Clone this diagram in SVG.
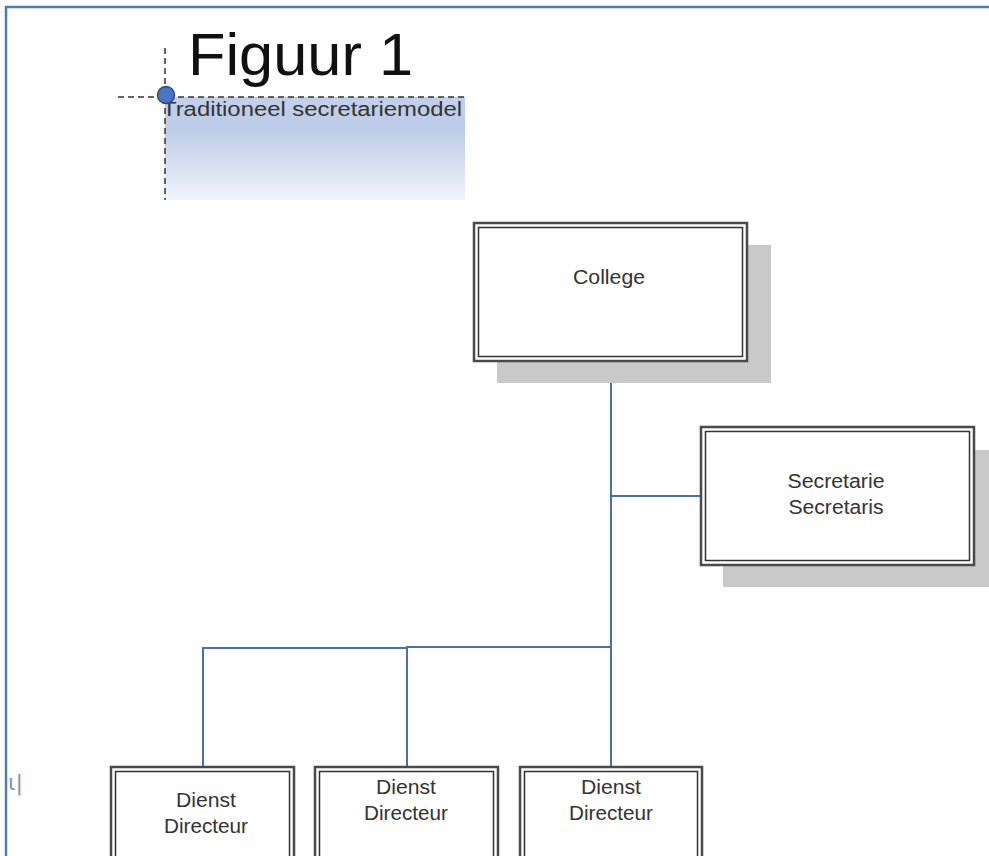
<svg xmlns="http://www.w3.org/2000/svg" width="989" height="856" viewBox="0 0 989 856">
<defs>
<linearGradient id="grad" x1="0" y1="0" x2="0" y2="1">
<stop offset="0" stop-color="#c3d0ea"/>
<stop offset="0.3" stop-color="#bccbe7"/>
<stop offset="1" stop-color="#f1f4fa"/>
</linearGradient>
</defs>
<style>
.shadow{fill:#c9c9c9}
.outer{fill:#ffffff;stroke:#4a4a4a;stroke-width:2.5}
.inner{fill:#ffffff;stroke:#333333;stroke-width:1.5}
.lbl{font-family:"Liberation Sans",Arial,sans-serif;font-size:20px;fill:#333333;text-anchor:middle}
.conn{stroke:#4a6fb5;stroke-width:2;fill:none}
.dash{stroke:#333333;stroke-width:1.5;stroke-dasharray:6 4;fill:none}
</style>
<rect width="989" height="856" fill="#ffffff"/>
<g id="frame">
<line x1="5" y1="7" x2="989" y2="7" stroke="#4f7bb5" stroke-width="2.5"/>
<line x1="6" y1="6" x2="6" y2="856" stroke="#4f7bb5" stroke-width="2.5"/>
</g>
<g id="title">
<rect x="165" y="97" width="300" height="103" fill="url(#grad)"/>
<text x="188" y="75" font-family="'Liberation Sans',Arial,sans-serif" font-size="60" fill="#111111" textLength="225" lengthAdjust="spacingAndGlyphs">Figuur 1</text>
<text x="162" y="116" font-family="'Liberation Sans',Arial,sans-serif" font-size="20" fill="#333333" textLength="300" lengthAdjust="spacingAndGlyphs">Traditioneel secretariemodel</text>
<line class="dash" x1="118" y1="97" x2="467" y2="97"/>
<line class="dash" x1="165" y1="48" x2="165" y2="200"/>
<circle cx="166" cy="95" r="8.5" fill="#4a76c4" stroke="#2a4a80" stroke-width="1.5"/>
</g>
<g id="connectors">
<polyline class="conn" points="611,361 611,647 407,647 407,767"/>
<polyline class="conn" points="407,648 203,648 203,767"/>
<line class="conn" x1="611" y1="647" x2="611" y2="767"/>
<line class="conn" x1="611" y1="496" x2="701" y2="496"/>
</g>
<g id="college">
<rect class="shadow" x="497" y="245" width="274" height="138"/>
<rect class="outer" x="474" y="223" width="273" height="138"/>
<rect class="inner" x="478.5" y="227.5" width="264" height="129"/>
<text class="lbl" x="609" y="284" textLength="72" lengthAdjust="spacingAndGlyphs">College</text>
</g>
<g id="secretarie">
<rect class="shadow" x="723" y="450" width="266" height="137"/>
<rect class="outer" x="701" y="427" width="273" height="138"/>
<rect class="inner" x="705.5" y="431.5" width="264" height="129"/>
<text class="lbl" x="836" y="488" textLength="97" lengthAdjust="spacingAndGlyphs">Secretarie</text>
<text class="lbl" x="836" y="514" textLength="95" lengthAdjust="spacingAndGlyphs">Secretaris</text>
</g>
<g id="dienst1">
<rect class="outer" x="111" y="767" width="183" height="100"/>
<rect class="inner" x="115.5" y="771.5" width="174" height="100"/>
<text class="lbl" x="206" y="807" textLength="60" lengthAdjust="spacingAndGlyphs">Dienst</text>
<text class="lbl" x="206" y="833" textLength="84" lengthAdjust="spacingAndGlyphs">Directeur</text>
</g>
<g id="dienst2">
<rect class="outer" x="315" y="767" width="183" height="100"/>
<rect class="inner" x="319.5" y="771.5" width="174" height="100"/>
<text class="lbl" x="406" y="794" textLength="60" lengthAdjust="spacingAndGlyphs">Dienst</text>
<text class="lbl" x="406" y="820" textLength="84" lengthAdjust="spacingAndGlyphs">Directeur</text>
</g>
<g id="dienst3">
<rect class="outer" x="520" y="767" width="182" height="100"/>
<rect class="inner" x="524.5" y="771.5" width="173" height="100"/>
<text class="lbl" x="611" y="794" textLength="60" lengthAdjust="spacingAndGlyphs">Dienst</text>
<text class="lbl" x="611" y="820" textLength="84" lengthAdjust="spacingAndGlyphs">Directeur</text>
</g>
<text x="8" y="790" font-family="'DejaVu Sans',sans-serif" font-size="22" fill="#8096b8" textLength="15" lengthAdjust="spacingAndGlyphs">ι|</text>
</svg>
